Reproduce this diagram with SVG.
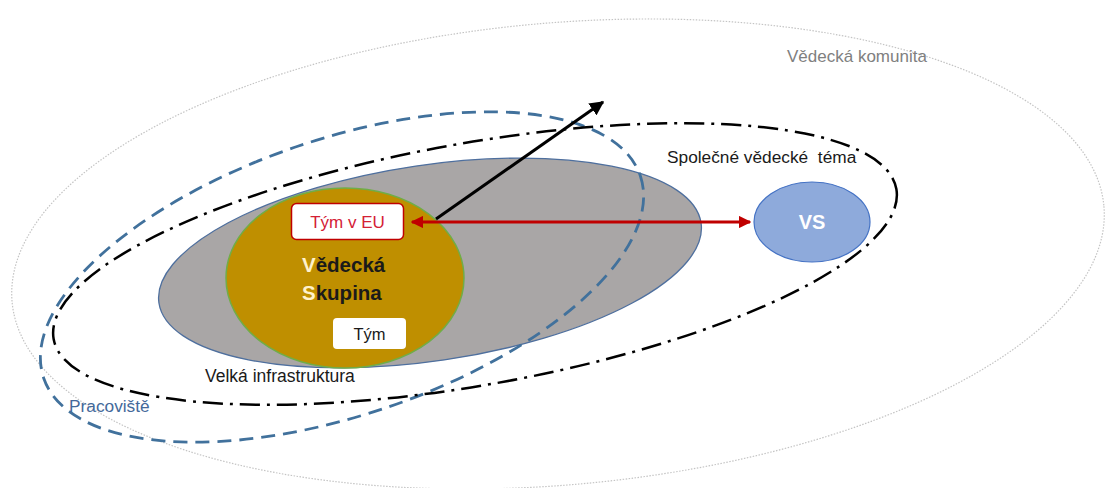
<svg xmlns="http://www.w3.org/2000/svg" width="1105" height="488" viewBox="0 0 1105 488">
  <style>
    .lbl { font-family: "Liberation Sans", Arial, sans-serif; }
    .boxtxt { font-family: "Liberation Sans", Arial, sans-serif; text-anchor: middle; }
    .big { font-family: "Liberation Sans", Arial, sans-serif; font-size: 20.5px; font-weight: bold; fill: #1a1a1a; }
  </style>
  <defs>
    <marker id="redHead" viewBox="0 0 10 10" refX="9" refY="5" markerWidth="4.2" markerHeight="4.2" orient="auto-start-reverse" markerUnits="strokeWidth">
      <path d="M0,0 L10,5 L0,10 z" fill="#c00000"/>
    </marker>
    <marker id="blackHead" viewBox="0 0 10 10" refX="9" refY="5" markerWidth="4.8" markerHeight="4.8" orient="auto" markerUnits="strokeWidth">
      <path d="M0,0 L10,5 L0,10 z" fill="#000"/>
    </marker>
  </defs>

  <rect width="1105" height="488" fill="#ffffff"/>

  <!-- scientific community: faint dotted outer ring -->
  <g id="komunita">
    <ellipse cx="558" cy="254" rx="548" ry="231" transform="rotate(-5 558 254)" fill="none" stroke="#c4c4c4" stroke-width="1.2" stroke-dasharray="1.5 1.5"/>
    <text class="lbl" x="787" y="62" font-size="17" fill="#808080">Vědecká komunita</text>
  </g>

  <!-- large infrastructure -->
  <g id="infrastruktura">
    <ellipse cx="430" cy="263" rx="274" ry="98" transform="rotate(-8.4 430 263)" fill="#a9a6a6" stroke="#4e6f9e" stroke-width="1.3"/>
    <text class="lbl" x="205" y="382" font-size="17.5" fill="#1a1a1a">Velká infrastruktura</text>
  </g>

  <!-- research group -->
  <g id="skupina">
    <ellipse cx="345" cy="278" rx="119" ry="90" fill="#bf8f00" stroke="#70ad47" stroke-width="1.5"/>
    <text class="big" x="302" y="272"><tspan fill="#fff2cc">V</tspan>ědecká</text>
    <text class="big" x="302" y="300"><tspan fill="#fff2cc">S</tspan>kupina</text>
  </g>

  <g id="tym-eu">
    <rect x="291.5" y="203.5" width="112" height="36" rx="5" fill="#ffffff" stroke="#c00000" stroke-width="1.5"/>
    <text class="boxtxt" x="347.5" y="228" font-size="17" fill="#d42035">Tým v EU</text>
  </g>

  <g id="tym">
    <rect x="333" y="318" width="73" height="31" rx="4" fill="#ffffff"/>
    <text class="boxtxt" x="369.5" y="340" font-size="16.5" fill="#1a1a1a">Tým</text>
  </g>

  <g id="vs">
    <ellipse cx="812" cy="222" rx="58" ry="40" fill="#8eaadb" stroke="#4472c4" stroke-width="1.2"/>
    <text x="812" y="229" font-family="Liberation Sans, Arial, sans-serif" font-size="20" font-weight="bold" fill="#ffffff" text-anchor="middle">VS</text>
  </g>

  <!-- workplace: blue dashed ring -->
  <g id="pracoviste">
    <ellipse cx="342" cy="277" rx="315" ry="138" transform="rotate(-18.7 342 277)" fill="none" stroke="#41719c" stroke-width="2.8" stroke-dasharray="14 8"/>
    <text class="lbl" x="69" y="412" font-size="17.3" fill="#44699a">Pracoviště</text>
  </g>

  <!-- common research topic: dash-dot ring -->
  <g id="tema">
    <ellipse cx="475" cy="264" rx="428" ry="121" transform="rotate(-10.1 475 264)" fill="none" stroke="#000000" stroke-width="2.5" stroke-dasharray="20 7 3 7"/>
    <text class="lbl" x="667" y="163" font-size="17.3" fill="#1a1a1a" xml:space="preserve">Společné vědecké  téma</text>
  </g>

  <!-- connectors -->
  <g id="connectors">
    <line x1="412" y1="222" x2="750" y2="222" stroke="#c00000" stroke-width="3" marker-start="url(#redHead)" marker-end="url(#redHead)"/>
    <line x1="436" y1="219" x2="603" y2="102" stroke="#000000" stroke-width="3" marker-end="url(#blackHead)"/>
  </g>
</svg>
